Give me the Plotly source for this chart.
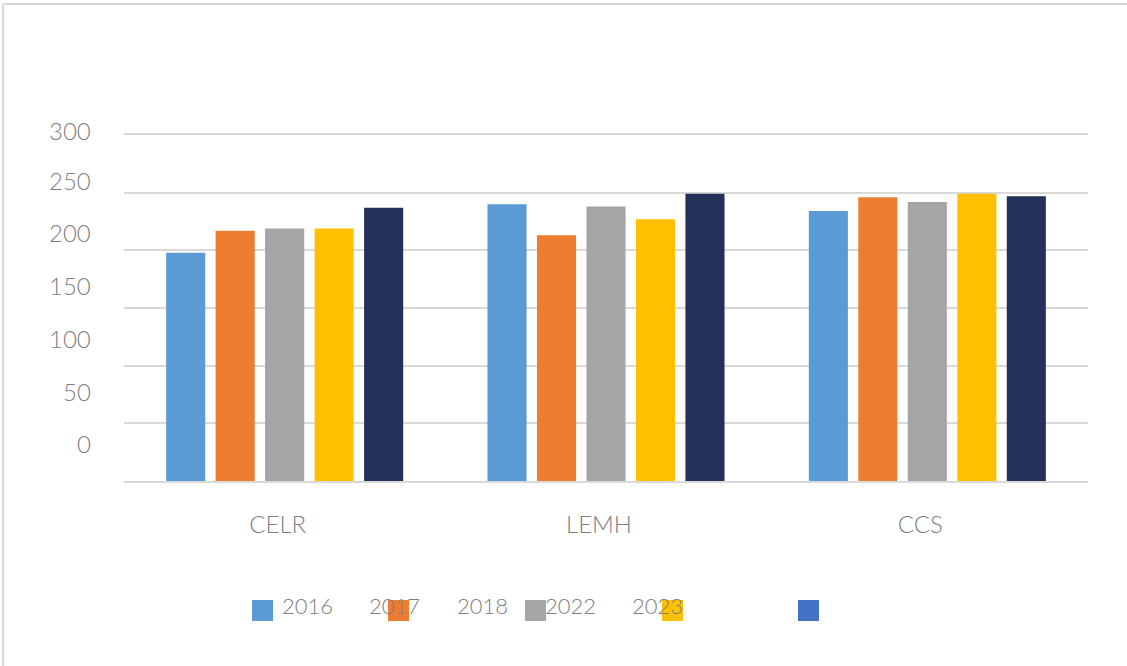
import plotly.graph_objects as go

categories = ["CELR", "LEMH", "CCS"]
years = ["2016", "2017", "2018", "2022", "2023"]
v2016 = [198, 240, 234]
v2017 = [217, 213, 246]
v2018 = [219, 238, 242]
v2022 = [219, 227, 249]
v2023 = [237, 249, 247]
series = [v2016, v2017, v2018, v2022, v2023]
y_ticks = [0, 50, 100, 150, 200, 250, 300]

bar_colors = ["#5B9BD5", "#ED7D31", "#A5A5A5", "#FFC000", "#25305A"]
legend_colors = ["#5B9BD5", "#ED7D31", "#A5A5A5", "#FFC000", "#4472C4"]
text_color = "#808080"
font_family = "Lato, 'Open Sans', sans-serif"

# plot-area pixel geometry
L, R, T, B = 124, 1088, 135, 481


def px(x):
    return (x - L) / (R - L)


def py(y):
    return (B - y) / (B - T)


fig = go.Figure()
for name, vals, col in zip(years, series, bar_colors):
    fig.add_trace(go.Bar(name=name, x=categories, y=vals, marker=dict(color=col, line=dict(width=0))))

annotations = []
# y tick labels (offset placement as in reference)
ylab_pos = [443, 391, 338, 285, 232, 180, 131]
for v, yp in zip(y_ticks, ylab_pos):
    annotations.append(dict(text=str(v), xref="paper", yref="paper", x=px(93), y=py(yp),
                            xanchor="right", yanchor="middle", showarrow=False,
                            font=dict(size=24, color=text_color, family=font_family, weight=300)))

# legend (manual, as in reference)
shapes = []
sq_left = [252, 388, 525, 662, 798]
for xl, col in zip(sq_left, legend_colors):
    shapes.append(dict(type="rect", xref="paper", yref="paper", x0=px(xl), x1=px(xl + 21),
                       y0=py(621), y1=py(600), fillcolor=col, line=dict(width=0)))
txt_left = [280, 367, 455, 543, 630]
for xl, t in zip(txt_left, years):
    annotations.append(dict(text=t, xref="paper", yref="paper", x=px(xl), y=py(605),
                            xanchor="left", yanchor="middle", showarrow=False,
                            font=dict(size=22, color=text_color, family=font_family, weight=300)))

# outer border (top and left edges only visible)
border = dict(color="#D9D9D9", width=2)
shapes.append(dict(type="line", xref="paper", yref="paper", x0=px(3), x1=px(1140),
                   y0=py(4), y1=py(4), line=border, layer="below"))
shapes.append(dict(type="line", xref="paper", yref="paper", x0=px(3), x1=px(3),
                   y0=py(4), y1=py(680), line=border, layer="below"))

fig.update_layout(
    width=1127, height=666,
    margin=dict(l=L, r=1127 - R, t=T, b=666 - B),
    paper_bgcolor="white", plot_bgcolor="white",
    barmode="group", bargap=0.23, bargroupgap=0.21,
    showlegend=False,
    font=dict(family=font_family, color=text_color),
    annotations=annotations, shapes=shapes,
    xaxis=dict(showgrid=False, showline=True, mirror=True, linecolor="#D9D9D9", linewidth=1.5,
               ticks="", zeroline=False,
               tickfont=dict(size=24, color=text_color, family=font_family, weight=300),
               ticklabelstandoff=21, ticklabelshift=-7),
    yaxis=dict(range=[0, 300], dtick=50, tick0=0, showticklabels=False, showgrid=True,
               gridcolor="#D9D9D9", gridwidth=1.5, zeroline=False, showline=False, ticks=""),
)

fig.write_html("out.html", config={"displayModeBar": False},
               post_script="document.body.style.margin='0';")
